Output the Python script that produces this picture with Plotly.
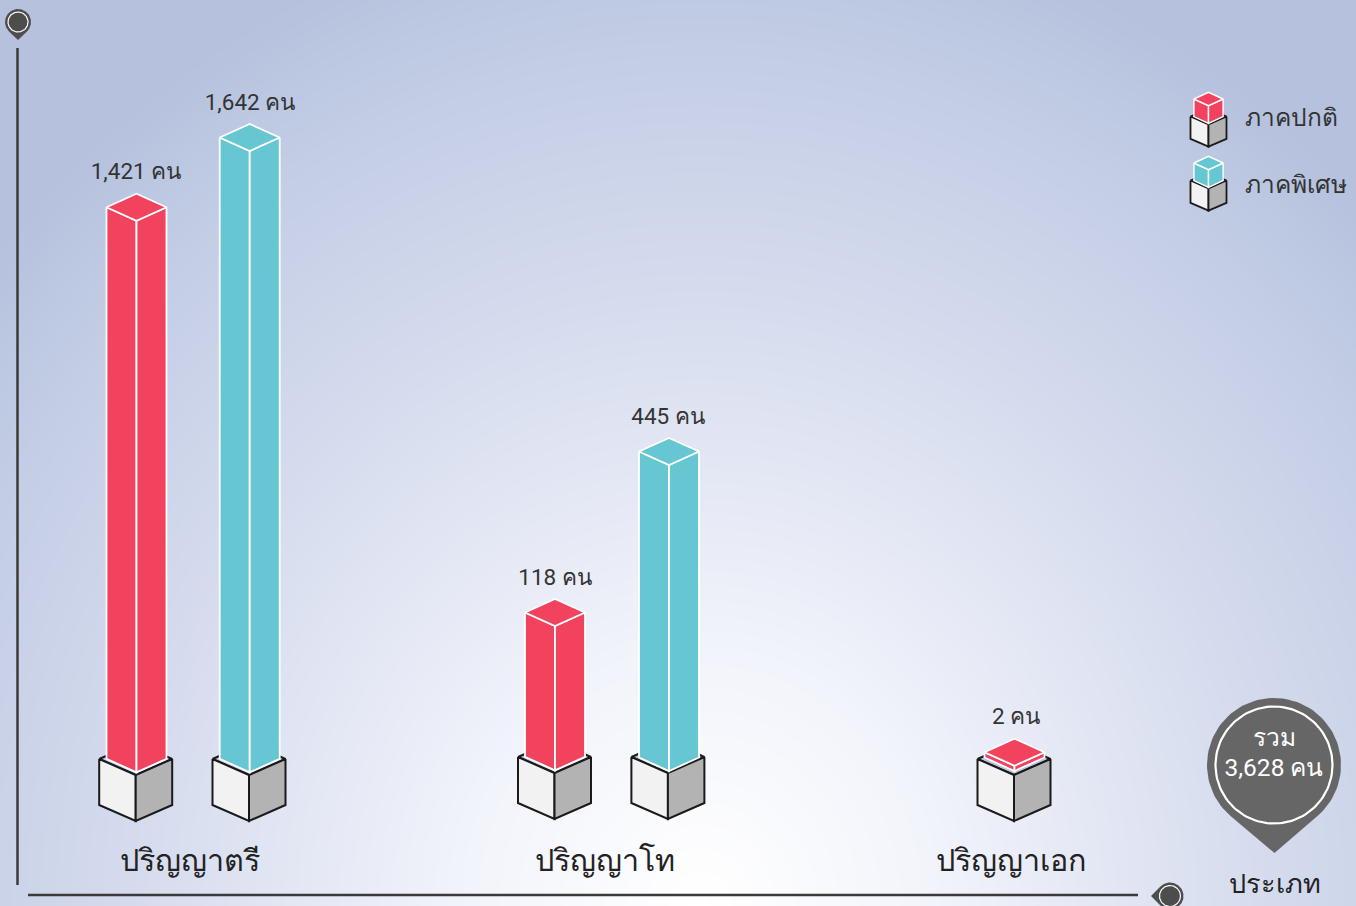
import numpy as np
import plotly.graph_objects as go

# ---- data ----
categories = ["ปริญญาตรี", "ปริญญาโท", "ปริญญาเอก"]
series_names = ["ภาคปกติ", "ภาคพิเศษ"]
regular = [1421, 118, 2]
special = [1642, 445, None]
total = 3628
unit = "คน"
axis_name = "ประเภท"
total_word = "รวม"

# ---- non-linear pictorial value scale (value -> column height in px) ----
scale_values = [0, 2, 118, 445, 1421, 1642]
scale_heights = [0, 5.3, 144.3, 306, 551.6, 621.3]


def height(v):
    return float(np.interp(v, scale_values, scale_heights))


RED = "#f1435e"
TEAL = "#66c7d2"
INK = "#1a1a1a"
FONT = "Roboto, Noto Sans, DejaVu Sans, sans-serif"

# slots: (value series, category index, cube centre x, cube front y, column centre x, column front-bottom y, label x)
slots = [
    (regular, 0, 135.7, 775, 136.5, 772.3, 136),
    (special, 0, 249.0, 775, 249.7, 772.3, 250),
    (regular, 1, 554.5, 773, 555.0, 770.3, 555),
    (special, 1, 667.9, 773, 669.0, 771.0, 668),
    (regular, 2, 1014.0, 775, 1014.5, 771.0, 1016),
]
fig = go.Figure()

# background gradient
gx = np.linspace(0, 1356, 137)
gy = np.linspace(0, 906, 92)
X, Y = np.meshgrid(gx, gy)
T = np.clip(np.sqrt(((X - 700) / 930) ** 2 + ((Y - 905) / 1010) ** 2), 0, 1)
fig.add_trace(go.Heatmap(x=gx, y=gy, z=T, zmin=0, zmax=1, zsmooth="best", showscale=False, hoverinfo="skip",
                         colorscale=[[0, "#ffffff"], [0.25, "#f2f4fb"], [0.6, "#d6dcee"], [0.85, "#c3cde5"], [1, "#b5c1dd"]]))


def poly(xs, ys, fill, line=None, w=1.5):
    fig.add_trace(go.Scatter(x=xs + xs[:1], y=ys + ys[:1], mode="lines", fill="toself", fillcolor=fill,
                             line=dict(color=line or fill, width=w if line else 0), hoverinfo="skip", showlegend=False))


def cube(cx, fy, hw=36.5, dy=16, h=46, w=2):
    # top face, left face, right face
    poly([cx - hw, cx, cx + hw, cx], [fy - dy, fy - 2 * dy, fy - dy, fy], "#b7c4e1", INK, w)
    poly([cx - hw, cx, cx, cx - hw], [fy - dy, fy, fy + h, fy + h - dy], "#f2f2f2", INK, w)
    poly([cx + hw, cx, cx, cx + hw], [fy - dy, fy, fy + h, fy + h - dy], "#b3b3b3", INK, w)


def column(cx, by, h, color, hw=30, dy=13.5, w=1.8):
    ty = by - h
    poly([cx - hw, cx, cx, cx - hw], [ty - dy, ty, by, by - dy], color, "#ffffff", w)
    poly([cx + hw, cx, cx, cx + hw], [ty - dy, ty, by, by - dy], color, "#ffffff", w)
    poly([cx - hw, cx, cx + hw, cx], [ty - dy, ty - 2 * dy, ty - dy, ty], color, "#ffffff", w)


label_xs, label_ys, label_txt = [], [], []
for series, i, cube_x, cube_y, col_x, col_y, lab_x in slots:
    v = series[i]
    cube(cube_x, cube_y)
    color = RED if series is regular else TEAL
    h = height(v)
    column(col_x, col_y, h, color)
    label_xs.append(lab_x)
    label_ys.append(col_y - h - 2 * 13.5 - 20)
    label_txt.append(f"{v:,} {unit}")

fig.add_trace(go.Scatter(x=label_xs, y=label_ys, mode="text", text=label_txt, textposition="middle center",
                         textfont=dict(family=FONT, size=22.5, color="#333333"), hoverinfo="skip", showlegend=False))

# category labels
fig.add_trace(go.Scatter(x=[190, 605, 1011], y=[863, 863, 863], mode="text", text=categories, textposition="middle center",
                         textfont=dict(family=FONT, size=30.5, color="#222222"), hoverinfo="skip", showlegend=False))

# legend
for k, (name, color) in enumerate(zip(series_names, [RED, TEAL])):
    oy = 64 * k
    cube(1208.5, 124.3 + oy, hw=18, dy=7.8, h=22.4, w=1.8)
    column(1208.5, 123.3 + oy, 17.6, color, hw=14.6, dy=6.7, w=1.4)
fig.add_trace(go.Scatter(x=[1245, 1245], y=[120, 187], mode="text", text=series_names, textposition="middle right",
                         textfont=dict(family=FONT, size=24.5, color="#333333"), hoverinfo="skip", showlegend=False))

# axis lines
AX = "#3a3a3a"
fig.add_trace(go.Scatter(x=[17.5, 17.5], y=[48, 885], mode="lines", line=dict(color=AX, width=2.5), hoverinfo="skip", showlegend=False))
fig.add_trace(go.Scatter(x=[28, 1138], y=[895, 895], mode="lines", line=dict(color=AX, width=2.5), hoverinfo="skip", showlegend=False))


def pin(cx, cy, r, tip_x, tip_y, ring_r, ring_w, color):
    a = np.arctan2(tip_y - cy, tip_x - cx)
    d = np.hypot(tip_x - cx, tip_y - cy)
    off = np.arccos(r / d)
    angs = np.linspace(a + off, a + 2 * np.pi - off, 90)
    poly(list(cx + r * np.cos(angs)) + [tip_x], list(cy + r * np.sin(angs)) + [tip_y], color)
    t = np.linspace(0, 2 * np.pi, 120)
    fig.add_trace(go.Scatter(x=cx + ring_r * np.cos(t), y=cy + ring_r * np.sin(t), mode="lines",
                             line=dict(color="#ffffff", width=ring_w), hoverinfo="skip", showlegend=False))


pin(18, 22, 13, 18, 40, 10, 1.2, "#4d4d4d")
pin(1170, 896, 13.5, 1151, 896, 10.5, 1.2, "#4d4d4d")
pin(1274, 765, 67, 1274.5, 853, 58.5, 2.2, "#666666")

fig.add_trace(go.Scatter(x=[1274, 1274], y=[740, 770], mode="text", text=[total_word, f"{total:,} {unit}"],
                         textposition="middle center", textfont=dict(family=FONT, size=24.5, color="#ffffff"),
                         hoverinfo="skip", showlegend=False))
fig.add_trace(go.Scatter(x=[1275], y=[886], mode="text", text=[axis_name], textposition="middle center",
                         textfont=dict(family=FONT, size=27, color="#222222"), hoverinfo="skip", showlegend=False))

fig.update_layout(width=1356, height=906, margin=dict(l=0, r=0, t=0, b=0), showlegend=False,
                  paper_bgcolor="#ffffff", plot_bgcolor="#ffffff",
                  xaxis=dict(range=[0, 1356], visible=False, fixedrange=True),
                  yaxis=dict(range=[906, 0], visible=False, fixedrange=True))
fig.write_html("out.html", config={"displayModeBar": False},
               post_script="document.body.style.margin='0';document.body.style.overflow='hidden';")
